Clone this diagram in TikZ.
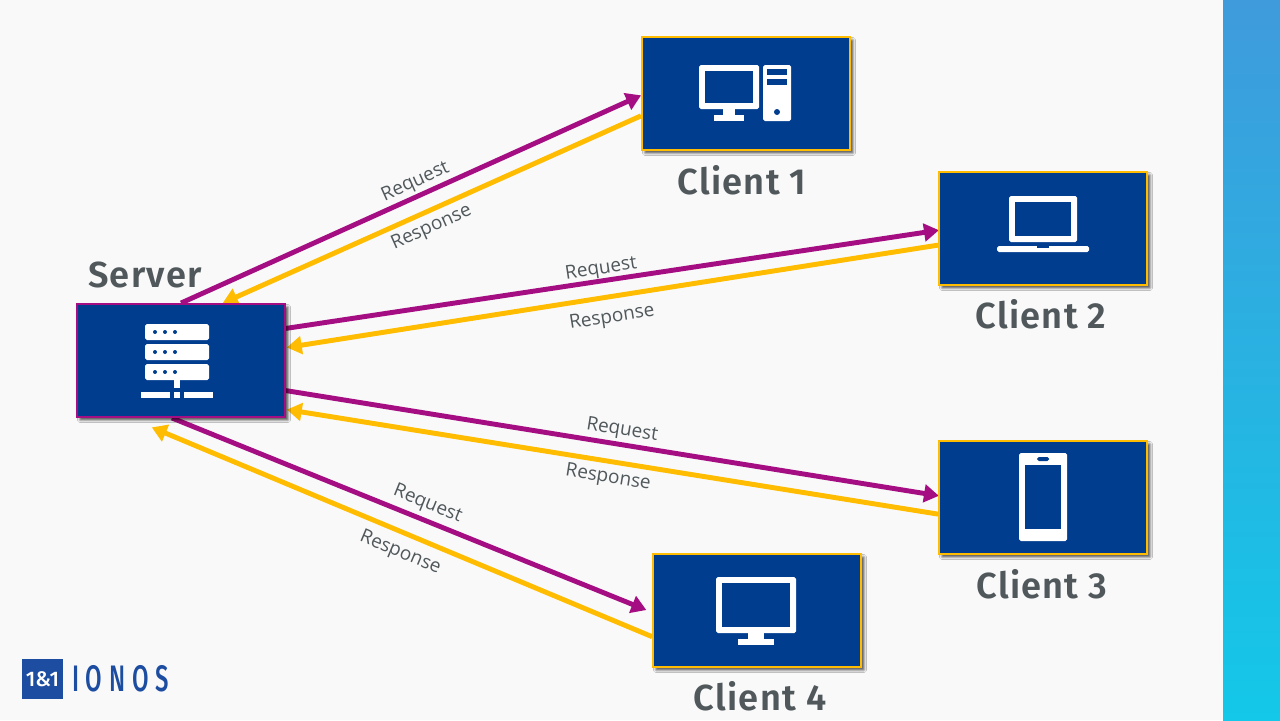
\documentclass[tikz,border=0pt]{standalone}
\usepackage{fontspec}
\setmainfont{Open Sans}
\newfontfamily\headfont[LetterSpace=3.5]{Fira Sans SemiBold}
\newfontfamily\logofont{Fira Sans Medium}
\usetikzlibrary{arrows.meta,backgrounds,shadows.blur}
\definecolor{navy}{HTML}{003D8F}
\definecolor{magenta}{HTML}{A50E82}
\definecolor{amber}{HTML}{FFBC00}
\definecolor{slate}{HTML}{50585C}
\definecolor{logoblue}{HTML}{1C4DA1}
\definecolor{paper}{HTML}{F9F9F9}
\definecolor{striptop}{HTML}{3F9BDC}
\definecolor{stripbottom}{HTML}{13C8E8}
\tikzset{
  box/.style={draw=#1,line width=1.1pt,fill=navy,inner sep=0mm,minimum width=4.16cm,minimum height=2.26cm,
    blur shadow={shadow xshift=1.7pt,shadow yshift=-1.7pt,shadow blur radius=1.4pt,shadow opacity=70}},
  head/.style={inner sep=0mm,text=slate,font=\headfont\fontsize{20.6}{24}\selectfont},
  lbl/.style={inner sep=0mm,sloped,text=slate,font=\fontsize{10.8}{12}\selectfont},
  request/.style={draw=magenta,line width=2.8pt,-{Triangle[length=8.5pt,width=10pt]}},
  response/.style={draw=amber,line width=2.8pt,-{Triangle[length=8.5pt,width=10pt]}},
  icon/.style={fill=white,rounded corners=1pt},
  hole/.style={fill=navy},
  plain/.style={fill=white}
}
\begin{document}
\begin{tikzpicture}[x=0.02cm,y=-0.02cm]
\useasboundingbox (0,0) rectangle (1280,720);
% boxes
\node[box=magenta] (server) at (181,360.5) {};
\foreach \x/\y/\n in {746/93.5/client1, 1043/228.5/client2, 1043/497.5/client3, 757/610.5/client4}
  \node[box=amber] (\n) at (\x,\y) {};
% headings
\foreach \x/\y/\n/\t in {145/275/serverhead/Server, 742/180/head1/Client 1, 1041/314/head2/Client 2, 1042/584/head3/Client 3, 760/696/head4/Client 4}
  \node[head] (\n) at (\x,\y) {\t};
% connectors go behind the boxes
\begin{scope}[on background layer]
\fill[paper] (0,0) rectangle (1280,720);
\shade[top color=striptop,bottom color=stripbottom] (1223,0) rectangle (1280,720);
\foreach \s/\t/\d/\p/\g in {server.north/client1.181/0pt/.522/1.2pt, server.17.4/client2.181.4/-.5pt/.486/0pt, server.-16.3/client3.179.2/-.5pt/.512/1.5pt, server.-99/client4.181.9/3.5pt/.52/2.5pt}
  \draw[request,shorten >=\d] (\s) -- node[lbl,above=\g,pos=\p] {Request} (\t);
\foreach \s/\t/\d/\p/\g in {client1.192.7/server.54/0pt/.517/3pt, client2.189.55/server.7.9/.5pt/.505/5.5pt, client3.189.55/server.-25/.5pt/.502/3pt, client4.194.3/server.228.5/13.9pt/.467/5pt}
  \draw[response,shorten >=\d] (\s) -- node[lbl,below=\g,pos=\p] {Response} (\t);
\end{scope}
% server icon
\foreach \y in {324,344,364} {
  \fill[icon] (145,\y) rectangle (209,\y+16);
  \foreach \x in {155,165,175}
    \fill[hole] (\x,\y+8) circle (2);
}
\fill[plain] (174,380) rectangle (180,388);
\fill[plain] (141,392) rectangle (170,398);
\fill[plain] (174,392) rectangle (180,398);
\fill[plain] (184,392) rectangle (213,398);
% client 1 icon
\fill[icon] (699,65) rectangle (759,109);
\fill[hole] (705,71) rectangle (753,103);
\fill[plain] (723,109) rectangle (735,115);
\fill[plain] (714,115) rectangle (744,121);
\fill[icon] (763,65) rectangle (791,121);
\fill[hole] (767,69) rectangle (787,75);
\fill[hole] (767,79) rectangle (787,85);
\fill[hole] (777,112) circle (3);
% client 2 icon
\fill[icon] (1009,196) rectangle (1077,242);
\fill[hole] (1015,202) rectangle (1071,236);
\fill[icon] (997,246) rectangle (1089,252);
\fill[hole] (1037,246) rectangle (1049,248);
% client 3 icon
\fill[icon] (1019,453) rectangle (1067,541);
\fill[hole] (1025,465) rectangle (1061,529);
\fill[hole,rounded corners=1pt] (1037,457) rectangle (1049,461);
% client 4 icon
\fill[icon] (716,577) rectangle (796,633);
\fill[hole] (722,583) rectangle (790,627);
\fill[plain] (748,633) rectangle (764,639);
\fill[plain] (738,639) rectangle (774,645);
% logo
\node[fill=logoblue,text=white,inner sep=0mm,minimum width=0.81cm,minimum height=0.81cm,font=\logofont\fontsize{12}{14}\selectfont] (logomark) at (42.5,679) {1\&1};
\node[inner sep=0mm,text=logoblue,xscale=.65,font=\logofont\fontsize{21}{24}\selectfont\addfontfeature{LetterSpace=28}] (logotext) at (120.5,679) {IONOS};
\end{tikzpicture}
\end{document}
